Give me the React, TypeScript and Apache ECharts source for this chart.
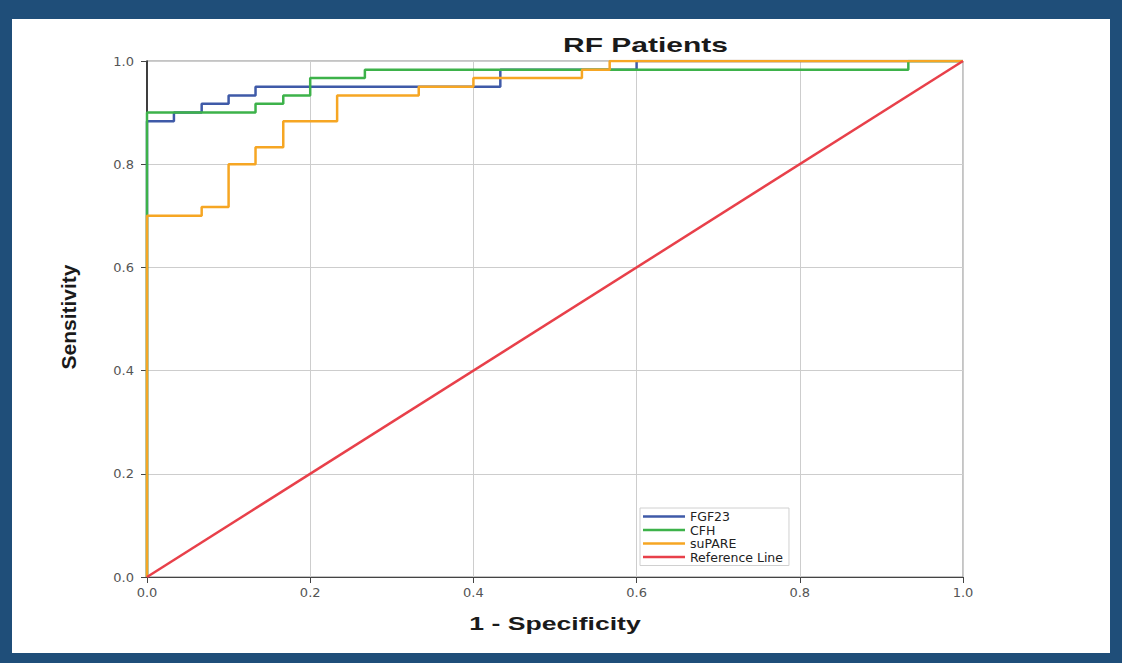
import React, { useEffect, useRef } from "react";
import * as echarts from "echarts";

const chartTitle = "RF Patients";
const xAxisName = "1 - Specificity";
const yAxisName = "Sensitivity";
const seriesNames = ["FGF23", "CFH", "suPARE", "Reference Line"];
const seriesColors = ["#3F5AA8", "#3DB24A", "#F6A623", "#E8404A"];

const fgf23Fpr = [0, 0, 0.033, 0.067, 0.1, 0.133, 0.433, 0.6, 1];
const fgf23Tpr = [0, 0.883, 0.9, 0.917, 0.933, 0.95, 0.983, 1, 1];

const cfhFpr = [0, 0, 0.133, 0.167, 0.2, 0.267, 0.933, 1];
const cfhTpr = [0, 0.9, 0.917, 0.933, 0.967, 0.983, 1, 1];

const suPareFpr = [0, 0, 0.067, 0.1, 0.133, 0.167, 0.233, 0.333, 0.4, 0.533, 0.567, 1];
const suPareTpr = [0, 0.7, 0.717, 0.8, 0.833, 0.883, 0.933, 0.95, 0.967, 0.983, 1, 1];

const refFpr = [0, 1];
const refTpr = [0, 1];

const zip = (xs: number[], ys: number[]) => xs.map((x, i) => [x, ys[i]]);

export default function App() {
  const ref = useRef<HTMLDivElement>(null);
  useEffect(() => {
    if (!ref.current) return;
    const chart = echarts.init(ref.current, undefined, { renderer: "svg" });
    const tickFont = { fontFamily: "DejaVu Sans", fontSize: 13, color: "#555" };
    const stepSeries = (name: string, color: string, data: number[][]) => ({
      name,
      type: "line",
      step: "end",
      symbol: "none",
      data,
      lineStyle: { color, width: 2.5 },
      itemStyle: { color },
    });
    chart.setOption({
      animation: false,
      backgroundColor: "#ffffff",
      grid: {
        left: 135,
        top: 42,
        width: 816,
        height: 516,
        show: true,
        borderColor: "#888",
        borderWidth: 1,
      },
      xAxis: {
        type: "value",
        min: 0,
        max: 1,
        interval: 0.2,
        axisLine: { show: true, lineStyle: { color: "#444", width: 1 } },
        axisTick: { show: true, length: 6, lineStyle: { color: "#444" } },
        axisLabel: { ...tickFont, margin: 9, formatter: (v: number) => v.toFixed(1) },
        splitLine: { show: true, lineStyle: { color: "#cdcdcd", width: 1 } },
      },
      yAxis: {
        type: "value",
        min: 0,
        max: 1,
        interval: 0.2,
        axisLine: { show: true, lineStyle: { color: "#111", width: 1.5 } },
        axisTick: { show: true, length: 6, lineStyle: { color: "#444" } },
        axisLabel: { ...tickFont, margin: 13, formatter: (v: number) => v.toFixed(1) },
        splitLine: { show: true, lineStyle: { color: "#cdcdcd", width: 1 } },
      },
      legend: {
        orient: "vertical",
        left: 628,
        top: 489,
        padding: [2, 6, 2, 3],
        itemGap: 0.5,
        itemWidth: 42,
        itemHeight: 2.5,
        icon: "rect",
        borderColor: "#d0d0d0",
        borderWidth: 1,
        backgroundColor: "#fff",
        textStyle: { fontFamily: "DejaVu Sans", fontSize: 12.5, lineHeight: 12, color: "#222" },
        data: seriesNames,
      },
      graphic: [
        {
          type: "text",
          x: 551,
          y: 26,
          scaleX: 1.5,
          style: {
            text: chartTitle,
            font: "bold 20px 'Liberation Sans'",
            fill: "#1a1a1a",
            textAlign: "left",
            textVerticalAlign: "middle",
          },
        },
        {
          type: "text",
          x: 543,
          y: 604,
          scaleX: 1.4,
          style: {
            text: xAxisName,
            font: "bold 19px 'Liberation Sans'",
            fill: "#1a1a1a",
            textAlign: "center",
            textVerticalAlign: "middle",
          },
        },
        {
          type: "text",
          x: 56,
          y: 298,
          rotation: Math.PI / 2,
          style: {
            text: yAxisName,
            font: "bold 21px 'Liberation Sans'",
            fill: "#1a1a1a",
            textAlign: "center",
            textVerticalAlign: "middle",
          },
        },
      ],
      series: [
        stepSeries(seriesNames[0], seriesColors[0], zip(fgf23Fpr, fgf23Tpr)),
        stepSeries(seriesNames[1], seriesColors[1], zip(cfhFpr, cfhTpr)),
        stepSeries(seriesNames[2], seriesColors[2], zip(suPareFpr, suPareTpr)),
        {
          name: seriesNames[3],
          type: "line",
          symbol: "none",
          data: zip(refFpr, refTpr),
          lineStyle: { color: seriesColors[3], width: 2.5 },
          itemStyle: { color: seriesColors[3] },
        },
      ],
    });
    return () => chart.dispose();
  }, []);

  return (
    <div style={{ position: "fixed", left: 0, top: 0, width: 1122, height: 663, background: "#1F4E79" }}>
      <div
        ref={ref}
        style={{ position: "absolute", left: 12, top: 19, width: 1098, height: 634, background: "#fff" }}
      />
    </div>
  );
}
